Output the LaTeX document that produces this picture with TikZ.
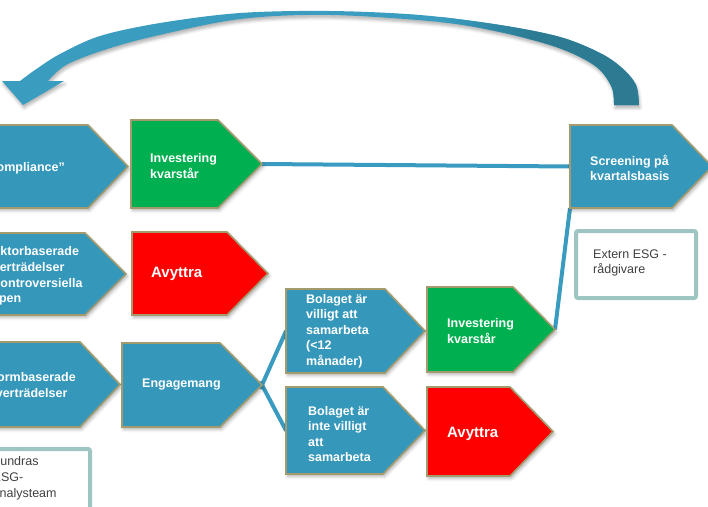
\documentclass[tikz,border=0pt]{standalone}
\usepackage{fontspec}
\setmainfont{Liberation Sans}
\usetikzlibrary{calc,shadows.blur,backgrounds}
\definecolor{pblue}{HTML}{3597BA}
\definecolor{pborder}{HTML}{A39B6E}
\definecolor{pgreen}{HTML}{00B050}
\definecolor{pred}{HTML}{FF0000}
\definecolor{lineblue}{HTML}{3A9BC0}
\definecolor{arrowlight}{HTML}{3A9DC0}
\definecolor{arrowdark}{HTML}{2C7B93}
\definecolor{boxborder}{HTML}{9FC5C3}
\definecolor{graytext}{HTML}{404040}
\tikzset{
  pent/.style={draw=pborder, line width=1.6pt, line join=miter,
    blur shadow={shadow xshift=1.5pt, shadow yshift=-2.5pt, shadow blur radius=3pt, shadow opacity=30}},
  wt/.style={font=\bfseries\fontsize{12.5}{15.6}\selectfont, text=white, align=left, inner sep=0pt, anchor=west},
  bigt/.style={font=\bfseries\fontsize{15}{18}\selectfont, text=white, inner sep=0pt, anchor=west},
  gt/.style={font=\fontsize{12.5}{15.8}\selectfont, text=graytext, align=left, inner sep=0pt, anchor=west},
  conn/.style={draw=lineblue, line width=4pt},
  ebox/.style={draw=boxborder, fill=white, line width=4pt, rounded corners=2pt, inner sep=0pt, anchor=north west}
}
\newcommand{\pentshape}[7]{%
  \node[inner sep=0pt, outer sep=0pt, minimum width=#4pt, minimum height=#5pt, anchor=north west] (#1) at (#2,#3) {};
  \coordinate (#1-tip) at ($(#1.east)+(#6,0)$);
  \filldraw[pent, fill=#7] (#1.north west) -- (#1.north east) -- (#1-tip) -- (#1.south east) -- (#1.south west) -- cycle;
}
\begin{document}
\begin{tikzpicture}[x=1pt,y=-1pt]
\useasboundingbox (0,0) rectangle (708,506);
\clip (0,0) rectangle (708,506);

% big curved return arrow
\fill[arrowlight, blur shadow={shadow xshift=1pt, shadow yshift=-3pt, shadow blur radius=3pt, shadow opacity=30}]
  plot[smooth, tension=0.55] coordinates {(639,105) (636,85) (622,68) (600,53) (560,37) (500,25) (420,15) (330,11) (240,13) (160,23) (100,36) (60,54) (35,70) (20,81)}
  -- (2,81) -- (23,105) -- (64,81) -- (48,81)
  -- plot[smooth, tension=0.55] coordinates {(48,81) (66,65) (104,50) (155,36) (240,19) (330,15) (440,22) (500,32) (550,45) (580,57) (600,70) (612,88) (614,105)}
  -- cycle;
\begin{scope}
  \clip plot[smooth, tension=0.55] coordinates {(639,105) (636,85) (622,68) (600,53) (560,37) (500,25) (420,15) (330,11) (240,13) (160,23) (100,36) (60,54) (35,70) (20,81)}
  -- (2,81) -- (23,105) -- (64,81) -- (48,81)
  -- plot[smooth, tension=0.55] coordinates {(48,81) (66,65) (104,50) (155,36) (240,19) (330,15) (440,22) (500,32) (550,45) (580,57) (600,70) (612,88) (614,105)}
  -- cycle;
  \shade[left color=arrowlight, right color=arrowdark] (440,0) rectangle (530,120);
  \fill[arrowdark] (529,0) rectangle (708,120);
\end{scope}

% left column (partly cut off)
\pentshape{C1}{-40}{125}{128}{83}{40}{pblue}
\pentshape{C2}{-40}{233}{125}{82}{41}{pblue}
\pentshape{C3}{-40}{342}{120}{85}{40}{pblue}
% second column
\pentshape{G1}{131}{120}{87}{88}{44}{pgreen}
\pentshape{R1}{132}{232}{95}{83}{41}{pred}
\pentshape{E}{122}{343}{98}{84}{42}{pblue}
% third column
\pentshape{B1}{286}{289}{99}{84}{40}{pblue}
\pentshape{B2}{286}{387}{97}{87}{42}{pblue}
% fourth column
\pentshape{G2}{427}{287}{86}{85}{42}{pgreen}
\pentshape{R2}{427}{387}{83}{89}{43}{pred}
% screening
\pentshape{S}{570}{125}{102}{83}{40}{pblue}

% boxes
\node[ebox, minimum width=120pt, minimum height=67pt] (X) at (574,229) {};
\node[ebox, minimum width=108pt, minimum height=83pt] (F) at (-20,447) {};

% connectors
\begin{scope}[on background layer]
  \draw[conn] (G1-tip) -- (S.west);
  \draw[conn] (G2-tip) -- (S.south west);
  \draw[conn, shorten <=-4pt] (E-tip) -- (B1.west);
  \draw[conn, shorten <=-4pt] (E-tip) -- (B2.west);
\end{scope}

% texts
\node[wt, anchor=east] (C1t) at (65,168) {”Compliance”};
\node[wt] (C2t) at (-15,276) {Sektorbaserade\\överträdelser\\\hphantom{Se}ontroversiella\\vapen};
\node[wt] (C3t) at (-12,385) {Normbaserade\\överträdelser};
\node[wt] (G1t) at (150,166) {Investering\\kvarstår};
\node[bigt] (R1t) at (151,274) {Avyttra};
\node[wt] (Et) at (142,385) {Engagemang};
\node[wt] (B1t) at (306,331) {Bolaget är\\villigt att\\samarbeta\\(<12\\månader)};
\node[wt] (B2t) at (308,434) {Bolaget är\\inte villigt\\att\\samarbeta};
\node[wt] (G2t) at (447,331) {Investering\\kvarstår};
\node[bigt] (R2t) at (447,434) {Avyttra};
\node[wt] (St) at (590,168) {Screening på\\kvartalsbasis};
\node[gt] (Xt) at (593,263) {Extern ESG -\\rådgivare};
\node[gt] (Ft) at (-7.5,478) {\hphantom{F}undras\\ESG-\\analysteam};
\end{tikzpicture}
\end{document}
